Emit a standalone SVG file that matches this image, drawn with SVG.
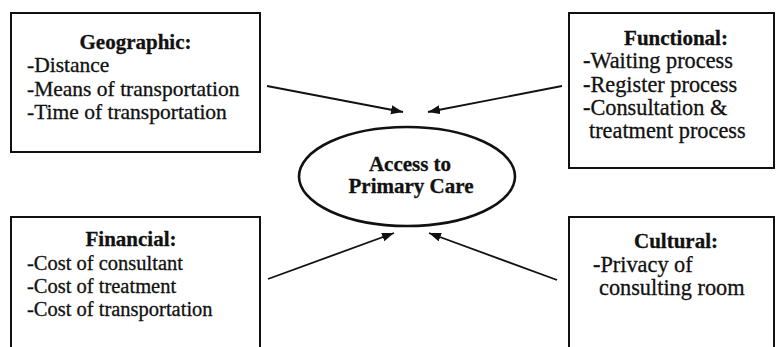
<svg xmlns="http://www.w3.org/2000/svg" width="776" height="347" viewBox="0 0 776 347">
<style>
.box{fill:#fff;stroke:#111;stroke-width:2}
.t{font-family:"Liberation Serif","Times New Roman",serif;font-size:21.5px;fill:#111;stroke:#111;stroke-width:0.3}
.b{font-weight:bold;text-anchor:middle;font-size:21px}
.f{font-size:20.5px}
.r{font-size:22.3px}
.c{stroke:#111;stroke-width:1.8;fill:none;marker-end:url(#ah)}
</style>
<defs>
<marker id="ah" markerUnits="userSpaceOnUse" markerWidth="14" markerHeight="10" refX="12" refY="4.5" orient="auto">
<path d="M0,0 L12,4.5 L0,9 Z" fill="#111"/>
</marker>
</defs>
<rect width="776" height="347" fill="#fff"/>
<g id="connectors">
<line class="c" x1="267" y1="86" x2="403" y2="112"/>
<line class="c" x1="562" y1="86" x2="428" y2="112"/>
<line class="c" x1="268" y1="279" x2="394" y2="233"/>
<line class="c" x1="557" y1="280" x2="429" y2="233"/>
</g>
<g id="geographic">
<rect class="box" x="11" y="13" width="249" height="139"/>
<text class="t b" x="135.5" y="49">Geographic:</text>
<text class="t" x="27" y="72">-Distance</text>
<text class="t" x="27" y="96">-Means of transportation</text>
<text class="t" x="27" y="119">-Time of transportation</text>
</g>
<g id="functional">
<rect class="box" x="569" y="13" width="205" height="155"/>
<text class="t b" x="676" y="45">Functional:</text>
<text class="t r" x="583" y="68">-Waiting process</text>
<text class="t r" x="583" y="92">-Register process</text>
<text class="t r" x="583" y="115">-Consultation &amp;</text>
<text class="t r" x="589" y="138">treatment process</text>
</g>
<g id="access">
<ellipse cx="407" cy="176.5" rx="108" ry="49.5" fill="#fff" stroke="#111" stroke-width="2.6"/>
<text class="t b" x="410" y="171">Access to</text>
<text class="t b" x="411" y="193">Primary Care</text>
</g>
<g id="financial">
<rect class="box" x="11" y="217" width="249" height="140"/>
<text class="t b" x="131" y="246">Financial:</text>
<text class="t f" x="27" y="270">-Cost of consultant</text>
<text class="t f" x="27" y="293">-Cost of treatment</text>
<text class="t f" x="27" y="316">-Cost of transportation</text>
</g>
<g id="cultural">
<rect class="box" x="569" y="217" width="205" height="140"/>
<text class="t b" x="676" y="248">Cultural:</text>
<text class="t r" x="593" y="272">-Privacy of</text>
<text class="t r" x="599" y="295">consulting room</text>
</g>
</svg>
